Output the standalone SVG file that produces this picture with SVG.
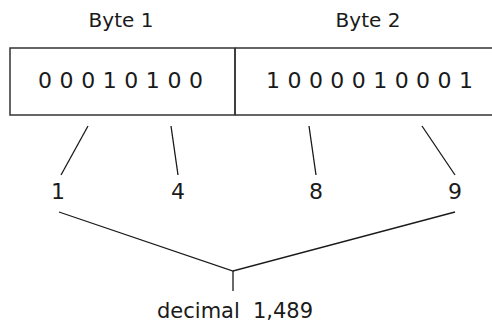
<svg xmlns="http://www.w3.org/2000/svg" width="492" height="325" viewBox="0 0 492 325">
<style>
text{font-family:"DejaVu Sans","Liberation Sans",sans-serif;fill:#1a1a1a}
.lbl{font-size:20px;text-anchor:middle}
.bits{font-size:22px}
.num{font-size:22px;text-anchor:middle}
.dec{font-size:21px}
.ln{stroke:#1a1a1a;stroke-width:1.3;fill:none}
.box{stroke:#333;stroke-width:1.5;fill:#fff}
</style>
<rect width="492" height="325" fill="#fff"/>
<g id="byte1">
<text class="lbl" x="121" y="27">Byte 1</text>
<rect class="box" x="10" y="48" width="225" height="67"/>
<text class="bits" x="38" y="88" textLength="165" lengthAdjust="spacing">0 0 0 1 0 1 0 0</text>
</g>
<g id="byte2">
<text class="lbl" x="368" y="27">Byte 2</text>
<path class="box" d="M235 48 H494 M235 115 H494 M235 48 V115"/>
<text class="bits" x="266" y="88" textLength="207" lengthAdjust="spacing">1 0 0 0 0 1 0 0 0 1</text>
</g>
<g id="n1"><text class="num" x="58" y="199">1</text></g>
<g id="n4"><text class="num" x="178" y="199">4</text></g>
<g id="n8"><text class="num" x="316" y="199">8</text></g>
<g id="n9"><text class="num" x="455" y="199">9</text></g>
<g id="result"><text class="dec" x="157" y="318">decimal <tspan dx="6.5">1,489</tspan></text></g>
<g id="connectors">
<line class="ln" x1="88" y1="126" x2="61" y2="175"/>
<line class="ln" x1="171" y1="126" x2="178" y2="175"/>
<line class="ln" x1="309" y1="126" x2="316" y2="175"/>
<line class="ln" x1="422" y1="126" x2="455" y2="175"/>
<polyline class="ln" points="59,212 233,271 455,212"/>
<line class="ln" x1="233" y1="271" x2="233" y2="291"/>
</g>
</svg>
